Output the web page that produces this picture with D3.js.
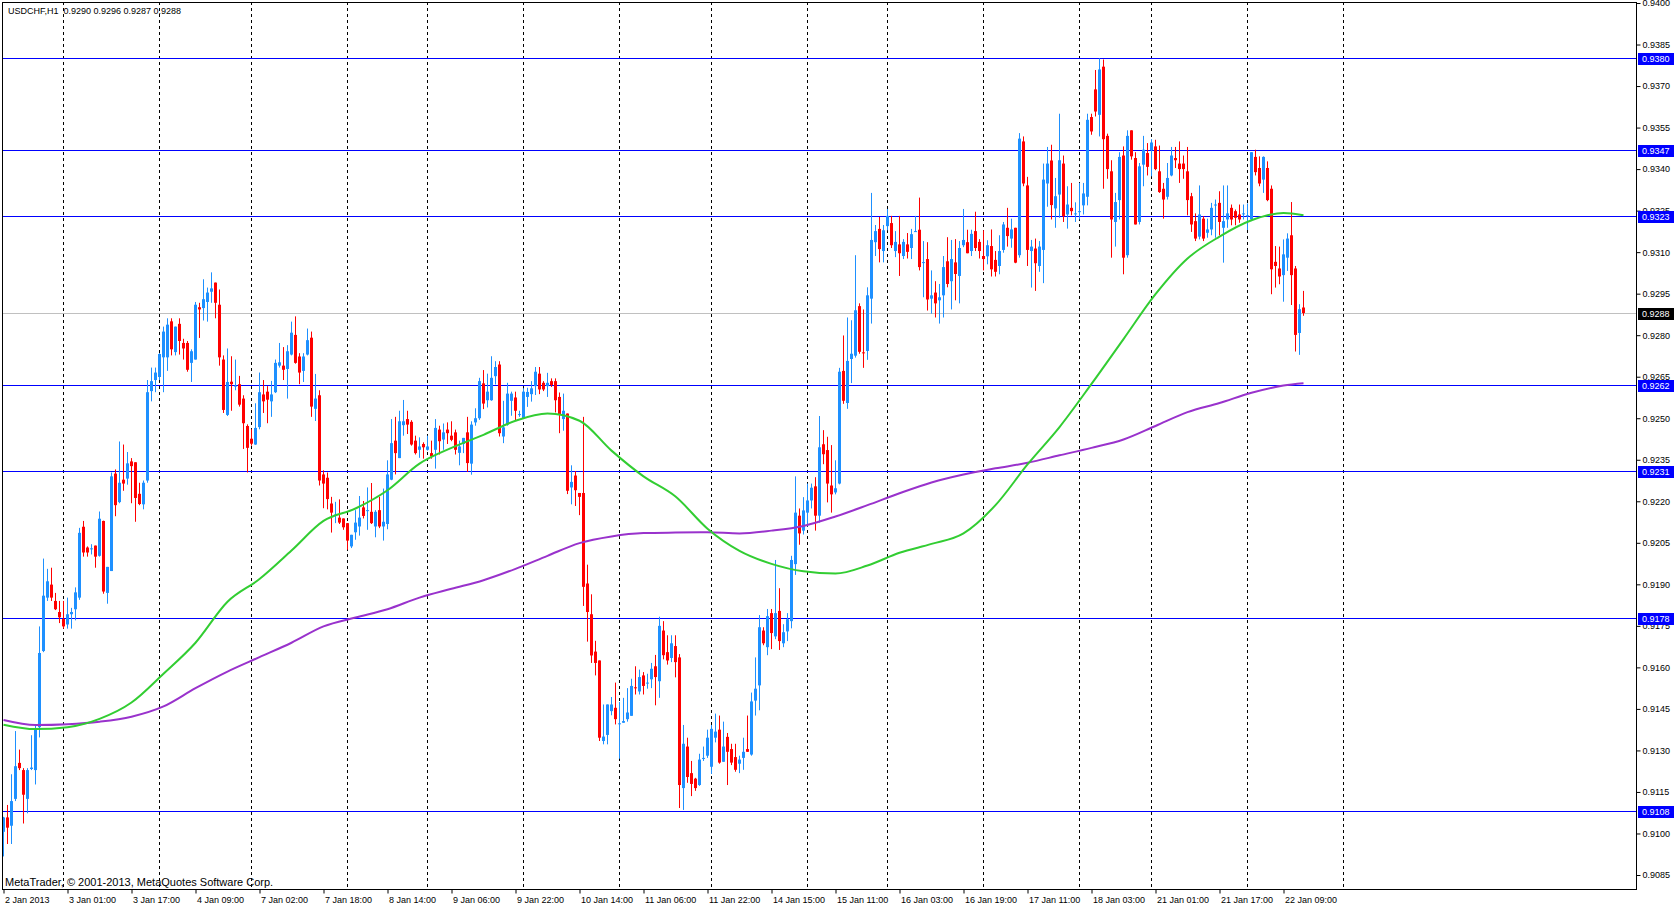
<!DOCTYPE html>
<html>
<head>
<meta charset="utf-8">
<script src="https://cdn.jsdelivr.net/npm/d3@7"></script>
<style>
html, body { margin: 0; padding: 0; background: #fff; overflow: hidden; }
svg text { font-family: "Liberation Sans", Arial, sans-serif; font-size: 9px; fill: #000; }
</style>
</head>
<body>
<svg id="chart" width="1674" height="906"></svg>
<script>
const title = "USDCHF,H1  0.9290 0.9296 0.9287 0.9288";
const copyright = "MetaTrader, \u00a9 2001-2013, MetaQuotes Software Corp.";

// H1 candles, prices in pips (price * 10000), one entry per bar
const opens = [
9100.6,9105.8,9102.8,9112.5,9125.5,9122.9,9112.5,9123.3,9122.9,9138.4,
9165.9,9185.2,9189.9,9184,9180,9177.5,9175.5,9179.2,9181,9185.2,
9210.8,9203.3,9203,9204,9200.3,9212.9,9186.9,9194.8,9230,9219.7,
9227.8,9228.2,9234.4,9234.1,9222.7,9218.9,9227.5,9259.8,9263.8,9264.9,
9272,9272,9285,9273.9,9284.1,9277.2,9277.2,9270,9271.2,9290.1,
9289.8,9292,9295.7,9299,9291,9271.2,9251.2,9263.2,9261.6,9262.3,
9257.1,9247.2,9242.6,9240.5,9246.8,9258.6,9259.6,9256.1,9259.4,9269,
9269,9267.8,9273,9280.1,9272.3,9267.1,9273,9279.1,9253.4,9258.3,
9229.7,9228.5,9219.2,9215,9214.1,9213.8,9212.1,9203.7,9208.8,9210.9,
9217.8,9216.6,9216.2,9210.9,9216.8,9210.9,9211.8,9227.8,9241.9,9235.6,
9247.5,9249.7,9248.7,9241.9,9238.6,9240.7,9238.6,9237.4,9238.6,9245.9,
9242.3,9245.9,9243.7,9244.9,9237.5,9240.7,9244.9,9233.6,9248.5,9250,
9262.6,9256.5,9256.5,9265.2,9269.4,9243.4,9247.7,9256.3,9257.5,9251.3,
9250,9257.7,9258.7,9261.6,9266.1,9262.8,9261.6,9263.4,9263.4,9257.7,
9249.7,9251.7,9225,9229.3,9223,9223,9190.3,9179.2,9165.7,9162.5,
9133.4,9135.6,9144.2,9145.4,9139.6,9140,9141.3,9142.5,9152.8,9151.3,
9157.1,9154.3,9155.7,9160.4,9155,9173.3,9165.5,9163.4,9167.7,9163.6,
9116.4,9131.4,9121.8,9119.8,9117.5,9127,9128.1,9124.1,9134.6,9137.5,
9125.9,9134.9,9130.5,9127.6,9125.2,9127.3,9130.5,9128.5,9148,9153.5,
9173.3,9167.3,9179.6,9171.2,9180.4,9168.7,9173,9176.7,9197.3,9214.8,
9209.4,9215.9,9220.3,9225.4,9214.8,9240.6,9238.5,9225.7,9223.2,9226.4,
9267.1,9255.5,9271.4,9272.6,9290.5,9273.8,9274.3,9293.2,9313.6,9318.4,
9310.4,9319.4,9320.5,9310.4,9312.8,9308.6,9312.8,9311.5,9317.4,9318.1,
9306.2,9307.5,9293.2,9295.4,9292.6,9294.4,9306.7,9299.5,9306.3,9301.4,
9312.5,9313.6,9310.4,9317.6,9313.7,9308.6,9308.5,9312.2,9307.2,9305,
9310.8,9318.8,9314.9,9318.8,9308.9,9350,9334.1,9310.4,9311.3,9305,
9310.8,9334.8,9343.1,9325.8,9330.8,9342,9323.6,9326,9323.8,9324.6,
9326.9,9330,9358.8,9368.8,9359.6,9377,9352,9339.2,9320.9,9328.8,
9344.9,9308.9,9354,9344,9320.9,9341.6,9345.8,9346.8,9348.2,9339.2,
9332.9,9330,9337.7,9344,9342,9342,9339.2,9330.2,9321.2,9315.6,
9322.1,9317,9318.2,9327,9327.8,9318.8,9321.8,9326,9324.8,9323.6,
9323.8,9323.1,9321.8,9344.4,9340.4,9336.2,9340.4,9332.9,9306.5,9304.1,
9301.7,9308,9316.1,9304.1,9280.8,9290
];
const highs = [
9106,9110.3,9121.4,9137,9130.3,9123.6,9123.6,9135.5,9139.2,9174.8,
9199.3,9195.6,9196,9186.9,9184,9184,9185.2,9181.5,9188.9,9210.4,
9212.9,9203.7,9204.5,9204,9216.3,9213,9196.3,9230.4,9231.5,9241.6,
9240.5,9237.8,9235.6,9234.1,9226.7,9227.5,9263.8,9268.3,9268.3,9273.5,
9283.1,9286.1,9286.1,9283.1,9286.1,9278.7,9277.9,9274.9,9292,9291.7,
9300.2,9297.2,9302.7,9299,9296.5,9272.7,9275.2,9272.4,9271.2,9265.3,
9258.3,9247.8,9246,9255.4,9266.5,9263.8,9261.6,9263.5,9271.2,9277.2,
9275.7,9276.4,9284.9,9286.8,9273.5,9273.5,9282.4,9281.3,9266,9260.1,
9231.2,9230.4,9221.6,9219.8,9220.7,9213.8,9212.1,9207.9,9216.8,9221.9,
9220.1,9225,9226.6,9216.8,9221.6,9224.6,9234.8,9249.7,9250.5,9252.7,
9256.6,9252.7,9249.3,9243.7,9243.1,9241.3,9243.7,9241.9,9249.7,9247.3,
9248.1,9248.5,9248.9,9245.9,9241.9,9242.9,9250.5,9248.9,9253.6,9264.6,
9267.4,9266.1,9272.4,9270.6,9270.6,9256.3,9262.8,9259.6,9259.6,9252.7,
9260.8,9261,9263.4,9268.5,9268.5,9263.4,9266.4,9264.4,9264.4,9259.3,
9258.9,9251.7,9233,9230.9,9223,9250.5,9197.1,9186.4,9169.6,9162.5,
9146.6,9146.6,9149.3,9154.5,9147.5,9149,9152.5,9155.9,9160.4,9159.2,
9158.3,9157.7,9161.6,9164.5,9178.3,9176.7,9171.6,9171.6,9171.6,9164.8,
9139.2,9134.6,9126.2,9120.1,9128.8,9131.4,9137.5,9139.2,9143.3,9142.6,
9140.4,9136.3,9132.4,9132.4,9128.1,9134.6,9142.6,9150.9,9163.6,9178.9,
9174.5,9181.1,9181.1,9198.8,9188.6,9175.6,9179.6,9200.3,9229,9217.4,
9221.5,9226.4,9226.4,9228.7,9250.8,9245.7,9243.3,9240.3,9234.8,9268.2,
9279.9,9286.4,9285.4,9308.9,9291.5,9289.3,9297.3,9331.4,9319.8,9322.7,
9319.8,9325.6,9323.1,9317.6,9323.1,9314.7,9316.9,9318.4,9323.1,9329.7,
9314,9313.6,9303.4,9299.5,9298.5,9308.6,9315.4,9314.4,9314.7,9314,
9325.6,9318.1,9318.1,9324.6,9314.7,9317.9,9314.3,9318.2,9310.4,9316.1,
9320.9,9326,9322.1,9318.8,9353,9351.8,9337.2,9314.4,9314.9,9314,
9342,9348,9348.8,9336.8,9360,9344.9,9333.8,9335,9328,9335,
9335,9360,9360,9375.8,9380,9379.6,9352.8,9343.2,9331.4,9346.1,
9348.2,9354,9354,9346.1,9342.2,9352,9349.4,9350.8,9350.6,9348.5,
9335,9342.2,9348,9348,9350,9344.9,9348,9331.4,9324,9334.1,
9323,9322.1,9327.8,9329,9332,9334.1,9334.1,9327.2,9325.4,9327.2,
9327.2,9327.6,9346.1,9347,9344.6,9344.6,9342.8,9334.1,9312.2,9312,
9314.6,9316.8,9328.1,9305,9291.2,9296
];
const lows = [
9091.7,9096.2,9096.2,9111.7,9122.9,9103.6,9107.3,9122.9,9117.7,9134.7,
9165.5,9184,9184,9180.7,9176,9174,9174,9174,9177,9184.4,
9200,9200,9200.8,9196,9200,9186.6,9183,9194.8,9214.6,9219.3,
9223.8,9226,9219.3,9212.6,9218.6,9217.1,9226.7,9256.1,9259.4,9263.8,
9259.4,9267.1,9272.7,9272.7,9273,9271.2,9266.8,9263.1,9271.2,9279,
9285.3,9284.9,9291.7,9286.1,9269,9251.9,9250.8,9252.7,9260.1,9254.2,
9238.9,9230.4,9240.1,9240.4,9246,9251.9,9248.2,9250.5,9259.1,9268.3,
9263.8,9257.1,9272.7,9269.7,9262.3,9263.1,9272.7,9250.5,9249,9225.7,
9217.5,9217.1,9208.7,9212.1,9211.8,9209.7,9202.5,9203.1,9206.1,9207.6,
9213.8,9209.7,9211.8,9207,9210.3,9205.8,9209.9,9227.6,9229.7,9235.6,
9243.7,9244.3,9240.1,9236.9,9235.7,9235.4,9238.3,9235.4,9231.8,9236.9,
9238.6,9240.7,9241.7,9236.9,9233,9237.4,9230.6,9229.6,9247.3,9249.4,
9253.3,9253.9,9256.3,9262.2,9243.4,9241,9247.3,9250.9,9249.1,9250.5,
9249.7,9254.1,9256,9258.4,9258.7,9259.8,9257.7,9261.3,9252.1,9244.6,
9245.5,9222.6,9218.9,9218.3,9215,9182.2,9169.3,9161.6,9157.1,9133.4,
9132.2,9132.2,9142.7,9139.4,9127,9140,9140.4,9142.5,9150.2,9150.2,
9150.2,9152.3,9152.5,9146.3,9149,9162.9,9161,9161.9,9156.4,9109.2,
9108.5,9118.3,9113.5,9115.4,9117.2,9126.2,9127.3,9121.5,9132.9,9125.2,
9125.9,9117.5,9124.7,9122.3,9121.8,9123,9129.5,9128.1,9142.6,9144.5,
9168,9164.4,9166.6,9170.2,9166.3,9167.3,9169.5,9174.1,9193.4,9204.3,
9208,9210.9,9217.4,9209.4,9212.3,9233.4,9219.6,9215.9,9222.5,9226.1,
9255.2,9253.4,9262.7,9271.9,9273.3,9268.2,9271.1,9284.2,9308.6,9306.3,
9306.3,9317.9,9311.5,9308.2,9301.4,9307.5,9307.7,9307.5,9317.3,9303.4,
9293.7,9288.9,9287.8,9286.4,9284.2,9286.4,9297.3,9289.3,9292.6,9291.5,
9311.8,9309.6,9308.6,9310.4,9307.7,9303.4,9305.6,9301.2,9301.2,9302,
9309.8,9312,9311.6,9306,9308,9333.8,9305,9297.2,9296,9302.9,
9298.8,9326.4,9321.8,9318.8,9322.4,9320.9,9318.5,9323.3,9320.9,9321.8,
9323.6,9326.9,9352.4,9359,9351.8,9332.9,9336.5,9308,9312,9321.8,
9302,9308,9343.4,9320,9320,9333.8,9337.7,9337.4,9339.6,9331.4,
9322.1,9329,9337.4,9340.4,9335,9336.5,9323.3,9317.3,9314,9314.6,
9314,9315.2,9316.1,9315.2,9316.1,9306.2,9318.8,9319.7,9319.7,9320.6,
9321.8,9318,9321.2,9337.7,9333.8,9331.4,9328.4,9294.8,9297.2,9298.4,
9292.1,9303.2,9290.9,9274.1,9272.9,9287
];
const closes = [
9105.8,9102.1,9111.7,9124.3,9123.6,9114,9122.9,9123.8,9137.7,9165.2,
9185.9,9191.1,9185.2,9181,9178.1,9174.8,9179.2,9180,9187.1,9208.6,
9201.5,9201.5,9203,9200,9213.7,9187.4,9196.3,9229,9218.6,9226.7,
9226.4,9233.7,9232.7,9221.2,9219,9226.7,9259.4,9263.4,9266.5,9273.2,
9281.3,9283.8,9274.9,9283.1,9277.9,9275.2,9267.5,9274.2,9291,9289.3,
9293,9295.4,9296.9,9291.7,9272,9253,9263.1,9262.3,9261.8,9254.9,
9248.2,9239.3,9240.8,9246.5,9259.4,9256.1,9256.7,9258.6,9270,9270.2,
9267.5,9274.2,9280.9,9270,9266.5,9272.3,9278.2,9254.2,9257.1,9227.5,
9226.4,9220.8,9215.9,9215.2,9212.3,9210.6,9205.8,9207.9,9212.3,9214.1,
9214.7,9216.8,9212.1,9216.2,9210.9,9212.6,9229.7,9241,9237.4,9248.9,
9248.9,9247.7,9240.5,9237.4,9239.8,9239.5,9239.8,9236.2,9246.5,9241.7,
9244.9,9244.6,9242.2,9238.6,9239.8,9242.9,9233.8,9247.7,9250,9263.4,
9255.3,9259.6,9264.6,9268.5,9244.6,9246.7,9258.9,9258.9,9252.7,9251.5,
9259.6,9259.5,9260.8,9266.8,9260.4,9260.4,9262.8,9262,9256.5,9251.5,
9252.7,9223.8,9227,9224,9221.6,9189.1,9180,9164.3,9161.6,9134.6,
9135,9146.6,9146.6,9141.3,9139.8,9140.6,9143.7,9153.3,9152.5,9156.5,
9153.3,9154.5,9159.5,9156.5,9175,9164.4,9162.5,9168.7,9161.9,9117.5,
9132.4,9120.4,9117.9,9116.4,9126.7,9127.3,9134.6,9137.8,9136.8,9125.6,
9131.4,9129.5,9125.6,9123,9126.7,9129.5,9129.5,9147.7,9152.3,9174.5,
9168.7,9178.5,9172.4,9179.6,9169.5,9172.7,9177.4,9198.8,9215.9,9208.4,
9216.7,9220.3,9224.9,9214.8,9239.5,9237,9226.4,9222.5,9224.7,9266.8,
9256.3,9270.7,9273.3,9289,9274,9273.6,9294.4,9314.4,9317.6,9311.1,
9317.9,9323.1,9312.5,9313.7,9309.6,9313.7,9310.1,9316.5,9317.6,9304.6,
9306.4,9292.9,9294.4,9291.5,9293.7,9304.6,9298.5,9307.5,9302.1,9311.5,
9314.4,9309.6,9316.6,9311.5,9310.4,9307.5,9312.5,9303.8,9302.9,9310.4,
9320,9315.8,9318.2,9306.2,9351,9334.8,9310.8,9312,9306,9312,
9336.2,9342,9327,9330.2,9343.2,9323,9327.2,9324.8,9324,9324.8,
9331.2,9357.8,9353.6,9360.8,9376,9350.8,9340,9321.8,9328.1,9344.4,
9308,9352,9344.6,9320,9341,9347,9340.8,9349.6,9340,9331.7,
9329,9336.8,9344.9,9343.2,9340,9340,9328.8,9320,9314.9,9323.6,
9314.9,9318.2,9326,9327.2,9320.9,9321.2,9324,9321.8,9322.4,9321.8,
9324,9323.3,9346.1,9338.9,9334.8,9344.4,9328.8,9303.8,9305,9301.2,
9309.2,9314.9,9301.7,9280.1,9289.4,9288
];

// moving averages, read every 8 bars
const maBars = [0,8,16,24,32,40,48,56,64,72,80,88,96,104,112,120,128,136,144,152,
  160,168,176,184,192,200,208,216,224,232,240,248,256,264,272,280,288,296,304,312,320,325];
const maGreen = [9139.3,9137.7,9138.4,9141.4,9147.3,9157.7,9168.9,9183.7,9191.9,9202.2,
  9212.9,9217.4,9224,9233.6,9239.3,9244,9249.1,9251.7,9249.1,9238.3,
  9229,9221.7,9210.1,9202.1,9197.4,9194.7,9193.9,9196.8,9201.4,9204.6,
  9208.4,9218.6,9233.3,9246.8,9262.4,9278.6,9294.8,9307.7,9315.6,9321.5,9324.1,9323.3];
const maPurple = [9141,9139.2,9139.5,9140.4,9142.2,9145.9,9152.5,9158.5,9163.7,9168.9,
  9174.8,9178,9181,9185.2,9188.4,9191.5,9195.6,9200.3,9204.9,9207.3,
  9208.5,9208.7,9208.8,9208.4,9209.4,9211.1,9214.5,9218.6,9222.9,9226.8,
  9229.7,9231.9,9233.9,9236.6,9239.3,9242.3,9247.2,9252.2,9255.5,9259.2,9261.8,9262.6];

// horizontal levels and bid
const levels = [9380, 9347, 9323, 9262, 9231, 9178, 9108];
const bid = 9288;

const priceTicks = [9085,9100,9115,9130,9145,9160,9175,9190,9205,9220,9235,9250,
  9265,9280,9295,9310,9325,9340,9355,9370,9385,9400];
const timeTickBars = [0,16,32,48,64,80,96,112,128,144,160,176,192,208,224,240,256,272,288,304,320];
const timeLabels = ["2 Jan 2013","3 Jan 01:00","3 Jan 17:00","4 Jan 09:00","7 Jan 02:00",
  "7 Jan 18:00","8 Jan 14:00","9 Jan 06:00","9 Jan 22:00","10 Jan 14:00","11 Jan 06:00",
  "11 Jan 22:00","14 Jan 15:00","15 Jan 11:00","16 Jan 03:00","16 Jan 19:00","17 Jan 11:00",
  "18 Jan 03:00","21 Jan 01:00","21 Jan 17:00","22 Jan 09:00"];
// bar index of each 00:00 bar (day separators)
const dayStarts = [15,39,62,86,106,130,154,177,201,221,245,269,287,311,335];

const plotL = 2, plotT = 2, plotR = 1636, plotB = 889;

const svg = d3.select("#chart");

const x = d3.scaleLinear().domain([0, 408]).range([3.5, 1635.5]);
const y = d3.scaleLinear().domain([9085, 9400]).range([875, 3]);
const py = v => Math.round(y(v)) + 0.5;
const fmt = v => (v / 10000).toFixed(4);

svg.append("defs").append("clipPath").attr("id", "plot")
  .append("rect").attr("x", plotL).attr("y", plotT)
  .attr("width", plotR - plotL).attr("height", plotB - plotT);

const plot = svg.append("g").attr("clip-path", "url(#plot)");

// day separators
plot.selectAll("line.day").data(dayStarts).enter().append("line")
  .attr("class", "day")
  .attr("x1", d => x(d)).attr("x2", d => x(d))
  .attr("y1", plotT).attr("y2", plotB)
  .attr("stroke", "#000").attr("stroke-width", 1).attr("stroke-dasharray", "3,3");

// bid line
plot.append("line")
  .attr("x1", plotL).attr("x2", plotR)
  .attr("y1", py(bid)).attr("y2", py(bid))
  .attr("stroke", "#c0c0c0").attr("stroke-width", 1);

// levels
plot.selectAll("line.level").data(levels).enter().append("line")
  .attr("class", "level")
  .attr("x1", plotL).attr("x2", plotR)
  .attr("y1", d => py(d)).attr("y2", d => py(d))
  .attr("stroke", "#0000ff").attr("stroke-width", 1);

// candles
const bars = d3.range(closes.length);
const colour = i => closes[i] >= opens[i] ? "#1e90ff" : "#ff0000";

plot.selectAll("line.wick").data(bars).enter().append("line")
  .attr("class", "wick")
  .attr("x1", i => x(i)).attr("x2", i => x(i))
  .attr("y1", i => y(highs[i])).attr("y2", i => y(lows[i]))
  .attr("stroke", colour).attr("stroke-width", 1);

plot.selectAll("rect.body").data(bars).enter().append("rect")
  .attr("class", "body")
  .attr("x", i => x(i) - 1.5)
  .attr("width", 3)
  .attr("y", i => y(Math.max(opens[i], closes[i])))
  .attr("height", i => Math.max(1, Math.abs(y(opens[i]) - y(closes[i]))))
  .attr("fill", colour);

// moving averages
const maLine = vals => d3.line()
  .x(d => x(d))
  .y((d, k) => y(vals[k]))
  .curve(d3.curveMonotoneX)(maBars);

plot.append("path").attr("d", maLine(maPurple))
  .attr("fill", "none").attr("stroke", "#9932cc").attr("stroke-width", 2);
plot.append("path").attr("d", maLine(maGreen))
  .attr("fill", "none").attr("stroke", "#32cd32").attr("stroke-width", 2);

// frame
svg.append("rect")
  .attr("x", plotL + 0.5).attr("y", plotT + 0.5)
  .attr("width", plotR - plotL).attr("height", plotB - plotT)
  .attr("fill", "none").attr("stroke", "#000").attr("stroke-width", 1);

// price axis
svg.append("g")
  .attr("transform", `translate(${plotR + 0.5},0)`)
  .call(d3.axisRight(y).tickValues(priceTicks).tickSize(4).tickPadding(2).tickFormat(fmt))
  .call(g => g.select(".domain").remove())
  .call(g => g.selectAll("line").attr("stroke", "#000"));

// time axis
svg.append("g")
  .attr("transform", `translate(0,${plotB + 0.5})`)
  .call(d3.axisBottom(x).tickValues(timeTickBars).tickSize(4).tickPadding(3)
    .tickFormat((d, k) => timeLabels[k]))
  .call(g => g.select(".domain").remove())
  .call(g => g.selectAll("line").attr("stroke", "#000"))
  .call(g => g.selectAll("text").attr("text-anchor", "start").attr("x", 1));

// level tags on the axis
const tags = svg.append("g");
const tagData = levels.map(v => ({ v, bg: "#0000ff" })).concat([{ v: bid, bg: "#000" }]);
tags.selectAll("rect").data(tagData).enter().append("rect")
  .attr("x", plotR + 2).attr("width", 1674 - plotR - 2)
  .attr("y", d => Math.round(y(d.v)) - 5).attr("height", 12)
  .attr("fill", d => d.bg);
tags.selectAll("text").data(tagData).enter().append("text")
  .attr("x", plotR + 6).attr("y", d => Math.round(y(d.v)) + 4)
  .style("fill", "#fff")
  .text(d => fmt(d.v));

// captions
svg.append("text").attr("x", 8).attr("y", 14)
  .style("white-space", "pre").text(title);
svg.append("text").attr("x", 5).attr("y", 886)
  .style("font-size", "11px").text(copyright);
</script>
</body>
</html>
